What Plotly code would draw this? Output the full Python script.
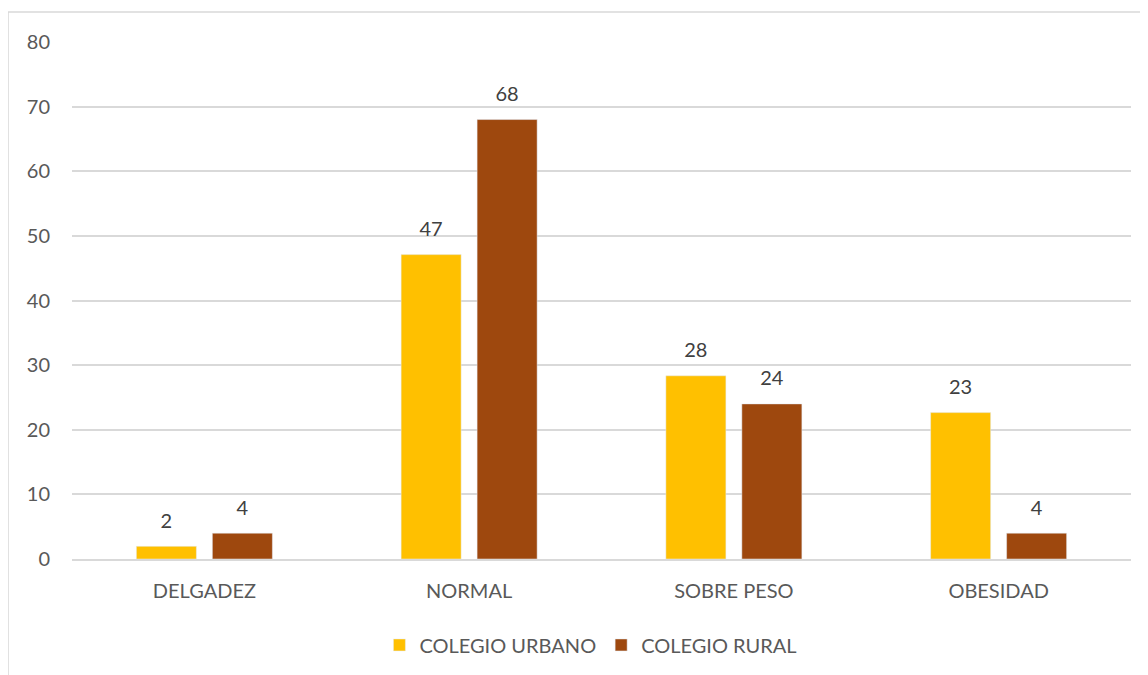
import plotly.graph_objects as go

categorias = ["DELGADEZ", "NORMAL", "SOBRE PESO", "OBESIDAD"]
urbano = [1.96, 47.1, 28.35, 22.65]
rural = [4.0, 68.0, 24.0, 4.0]
ticks_y = [0, 10, 20, 30, 40, 50, 60, 70, 80]

FUENTE = "Lato, 'Open Sans', sans-serif"
COLORES = {"COLEGIO URBANO": "#FFC000", "COLEGIO RURAL": "#9E480E"}
BARGAP = 0.426

fig = go.Figure()
for nombre, valores in [("COLEGIO URBANO", urbano), ("COLEGIO RURAL", rural)]:
    fig.add_trace(go.Bar(
        name=nombre, x=categorias, y=valores,
        marker_color=COLORES[nombre], offsetgroup=nombre,
    ))
# etiquetas de datos: scatter invisible agrupado igual que las barras
for nombre, valores in [("COLEGIO URBANO", urbano), ("COLEGIO RURAL", rural)]:
    fig.add_trace(go.Scatter(
        x=categorias, y=valores, mode="markers+text", offsetgroup=nombre,
        text=[f"{v:.0f}" for v in valores], textposition="top center",
        marker=dict(size=20, opacity=0), showlegend=False, hoverinfo="skip",
        textfont=dict(color="#404040", size=20, family=FUENTE), cliponaxis=False,
    ))

# borde del area del grafico (estilo Excel)
fig.add_shape(type="rect", xref="paper", yref="paper",
              x0=-0.0604, x1=1.05, y0=-0.3, y1=1.058,
              line=dict(color="#d9d9d9", width=1.5), layer="below")

fig.update_layout(
    width=1140, height=667,
    margin=dict(l=64, r=17, t=34, b=115),
    paper_bgcolor="white", plot_bgcolor="white",
    barmode="group", bargap=BARGAP, bargroupgap=0.21,
    scattermode="group", scattergap=BARGAP,
    font=dict(family=FUENTE, size=20, color="#595959"),
    legend=dict(orientation="h", x=0.49, xanchor="center", y=-0.164, yanchor="middle",
                font=dict(size=20, color="#595959"), itemwidth=30,
                traceorder="normal"),
    showlegend=True,
)
fig.update_yaxes(range=[0, 80], tickvals=ticks_y, showgrid=True, gridcolor="#d9d9d9",
                 gridwidth=1.5, zeroline=False, ticklabelstandoff=21,
                 tickfont=dict(size=20, color="#595959"))
fig.update_xaxes(showline=True, linecolor="#d9d9d9", linewidth=1.5,
                 tickfont=dict(size=20, color="#595959"), ticklabelstandoff=13)

fig.write_html("out.html")
